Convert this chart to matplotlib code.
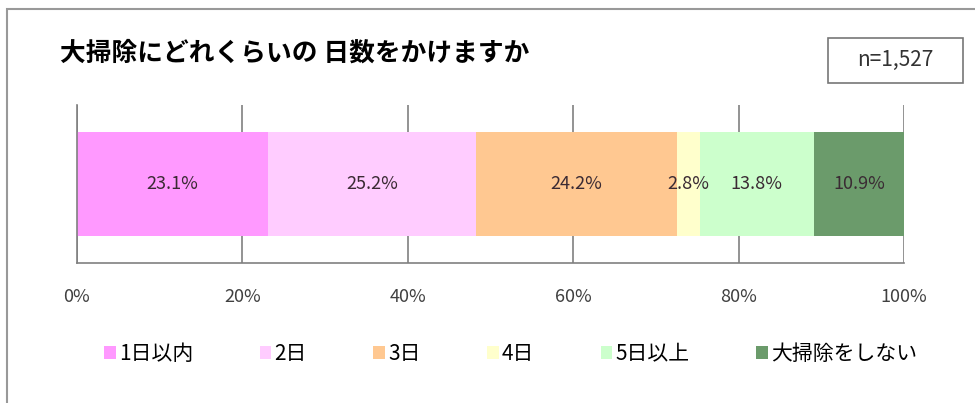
import matplotlib.pyplot as plt
from matplotlib.patches import Rectangle

plt.rcParams['font.family'] = ['Noto Sans CJK JP', 'DejaVu Sans']

# データ
categories = ['1日以内', '2日', '3日', '4日', '5日以上', '大掃除をしない']
values = [23.1, 25.2, 24.2, 2.8, 13.8, 10.9]
colors = ['#ff99ff', '#ffccff', '#ffc891', '#ffffcc', '#ccffcc', '#6b9b6b']
xticks = [0, 20, 40, 60, 80, 100]
title = '大掃除にどれくらいの 日数をかけますか'
n_label = 'n=1,527'

W, H = 975, 403
fig = plt.figure(figsize=(W / 100, H / 100), dpi=100)

# 外枠
fig.patches.append(Rectangle((7 / W, -0.1), 1.2, 1 - 9 / H + 0.1, transform=fig.transFigure,
                             fill=False, edgecolor='#999999', linewidth=1.5))

ax = fig.add_axes([77 / W, 1 - 263 / H, (904 - 77) / W, 158 / H])

left = 0
bars = []
for cat, val, col in zip(categories, values, colors):
    b = ax.barh(0, val, left=left, height=0.652, color=col, label=cat, zorder=2)
    ax.text(left + val / 2, 0, f'{val:.1f}%', ha='center', va='center',
            fontsize=13, color='#3a2a33', zorder=3)
    bars.append(b)
    left += val

ax.set_xlim(0, 100)
ax.set_ylim(-0.5, 0.5)
ax.set_yticks([])
ax.set_xticks(xticks)
ax.set_xticklabels([f'{t}%' for t in xticks], fontsize=13, color='#404040')
ax.tick_params(axis='x', length=0, pad=18)
ax.grid(axis='x', color='#808080', linewidth=1.2, zorder=0)
ax.spines['top'].set_visible(False)
ax.spines['right'].set_visible(False)
for s in ['left', 'bottom']:
    ax.spines[s].set_color('#808080')
    ax.spines[s].set_linewidth(1.2)

fig.text(60 / W, 1 - 53 / H, title, fontsize=18.5, fontweight='bold', va='center', ha='left')

fig.patches.append(Rectangle((828 / W, 1 - 83 / H), (963 - 828) / W, 45 / H,
                             transform=fig.transFigure, fill=False,
                             edgecolor='#777777', linewidth=1.2))
fig.text((828 + 963) / 2 / W, 1 - 60 / H, n_label, fontsize=15, ha='center', va='center',
         color='#333333')

fig.legend(handles=bars, labels=categories, loc='center left',
           bbox_to_anchor=(96 / W, 1 - 354 / H), ncol=6, frameon=False,
           fontsize=15, handlelength=0.55, handleheight=0.55, handletextpad=0.15,
           columnspacing=3.2, borderaxespad=0)

fig.savefig('out.png', dpi=100, facecolor='white')
